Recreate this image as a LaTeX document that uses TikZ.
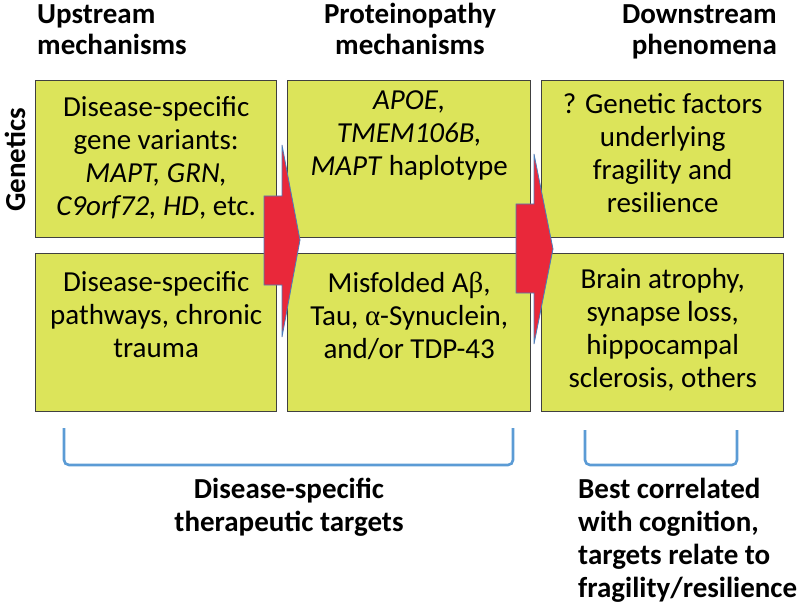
\documentclass[tikz,border=0pt]{standalone}
\usepackage{fontspec}
\setmainfont{Carlito}
\newfontfamily\grk{Liberation Serif}
\usetikzlibrary{calc}
\definecolor{boxfill}{RGB}{220,228,90}
\definecolor{boxline}{RGB}{64,64,64}
\definecolor{arrowred}{RGB}{233,40,58}
\definecolor{arrowline}{RGB}{74,126,187}
\definecolor{brace}{RGB}{91,155,213}
\newcommand\mlines[2][c]{\begin{tabular}[t]{@{}#1@{}}#2\end{tabular}}
\begin{document}
\begin{tikzpicture}[x=1pt,y=-1pt,
  box/.style={draw=boxline, line width=1.4pt, fill=boxfill, minimum height=157pt, inner sep=0pt, anchor=north west},
  btext/.style={inner sep=0pt, anchor=base, font=\fontsize{29}{33}\selectfont},
  htext/.style={inner sep=0pt, font=\fontsize{29}{31}\selectfont\bfseries},
  ltext/.style={inner sep=0pt, font=\fontsize{29}{33}\selectfont\bfseries},
  blockarrow/.style={fill=arrowred, draw=arrowline, line width=0.8pt, line join=miter},
  bracket/.style={draw=brace, line width=2.6pt, rounded corners=5pt}]
\useasboundingbox (0,0) rectangle (800,612);
% headers
\node[htext, anchor=base west] (h1) at (37,24) {\mlines[l]{Upstream\\mechanisms}};
\node[htext, anchor=base] (h2) at (410,24) {\mlines{Proteinopathy\\mechanisms}};
\node[htext, anchor=base east] (h3) at (777,24) {\mlines[r]{Downstream\\phenomena}};
\node[htext, rotate=90] (gen) at (15,160) {Genetics};
% boxes
\node[box, minimum width=241pt] (b11) at (35,80) {};
\node[box, minimum width=243pt] (b12) at (287,80) {};
\node[box, minimum width=242pt] (b13) at (541,80) {};
\node[box, minimum width=241pt, minimum height=158pt] (b21) at (35,253) {};
\node[box, minimum width=243pt, minimum height=158pt] (b22) at (287,253) {};
\node[box, minimum width=242pt, minimum height=158pt] (b23) at (541,253) {};
% box texts
\node[btext] (t11) at ($(b11.north)+(0,37)$) {\mlines{Disease-specific\\gene variants:\\\textit{MAPT, GRN,}\\\textit{C9orf72, HD}, etc.}};
\node[btext] (t12) at ($(b12.north)+(0,30)$) {\mlines{\textit{APOE,}\\\textit{TMEM106B,}\\\textit{MAPT} haplotype}};
\node[btext] (t13) at ($(b13.north)+(0,34)$) {\mlines{? Genetic factors\\underlying\\fragility and\\resilience}};
\node[btext] (t21) at ($(b21.north)+(0,38)$) {\mlines{Disease-specific\\pathways, chronic\\trauma}};
\node[btext] (t22) at ($(b22.north)+(0,39)$) {\mlines{Misfolded A{\grk β},\\Tau, {\grk α}-Synuclein,\\and/or TDP-43}};
\node[btext] (t23) at ($(b23.north)+(0,35)$) {\mlines{Brain atrophy,\\synapse loss,\\hippocampal\\sclerosis, others}};
% block arrows
\draw[blockarrow] (264,196) -- (282,196) -- (282,145) -- (300,240) -- (282,337) -- (282,285) -- (264,285) -- cycle;
\draw[blockarrow] (516,204) -- (534,204) -- (534,154) -- (553,249) -- (534,344) -- (534,293) -- (516,293) -- cycle;
% brackets
\coordinate (k1a) at (64,428);
\coordinate (k1b) at (513,428);
\coordinate (k2a) at (585,430);
\coordinate (k2b) at (737,430);
\draw[bracket] (k1a) -- (64,465) -- (513,465) -- (k1b);
\draw[bracket] (k2a) -- (585,465) -- (737,465) -- (k2b);
% bottom labels
\node[ltext, anchor=base] (l1) at (289,498) {\mlines{Disease-specific\\therapeutic targets}};
\node[ltext, anchor=base west] (l2) at (578,498) {\mlines[l]{Best correlated\\with cognition,\\targets relate to\\fragility/resilience}};
\end{tikzpicture}
\end{document}
